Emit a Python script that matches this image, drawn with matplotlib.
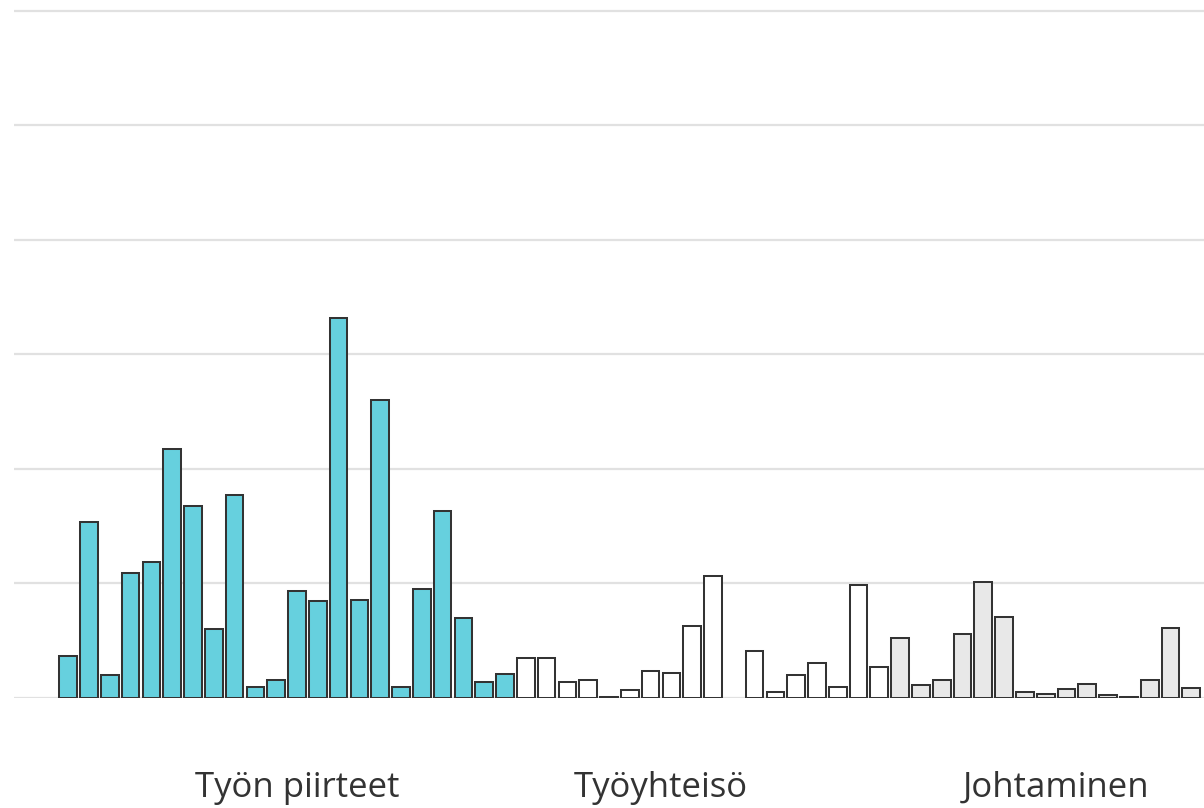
import matplotlib
matplotlib.use("Agg")
import matplotlib.pyplot as plt
import matplotlib.transforms as mtransforms
import numpy as np

# bar heights in grid units (gridline every 5); nan = no bar
values = [1.83, 7.69, 0.99, 5.44, 5.94, 10.86, 8.40, 3.03, 8.88, 0.47,
          0.77, 4.66, 4.24, 16.59, 4.27, 13.0, 0.47, 4.75, 8.17, 3.49,
          0.71, 1.06,
          1.73, 1.73, 0.68, 0.80, 0.06, 0.35, 1.16, 1.09, 3.13, 5.34,
          np.nan, 2.04, 0.25, 1.0, 1.53, 0.47, 4.92, 1.34,
          2.62, 0.55, 0.79, 2.79, 5.08, 3.54, 0.25, 0.16, 0.39, 0.61,
          0.12, 0.06, 0.79, 3.07, 0.42]
# colour class of each bar: 0 = highlighted, 1 = white, 2 = grey
bar_class = [0] * 22 + [1] * 18 + [2] * 15
class_colors = ["#66D0DE", "#FFFFFF", "#E8E8E8"]

groups = ["Työn piirteet", "Työyhteisö", "Johtaminen"]
group_sizes = [23, 12, 26]

fig = plt.figure(figsize=(12.04, 8.08), dpi=100)
ax = fig.add_axes([14 / 1204, 110 / 808, 1190 / 1204, 691.6 / 808])

x = np.arange(len(values))
colors = [class_colors[c] for c in bar_class]
ax.bar(x, values, width=0.85, color=colors, edgecolor="#333333", linewidth=1.45, zorder=3)

ax.set_xlim(-2.606, 54.61)
ax.set_ylim(0, 30.2)
ax.set_yticks([0, 5, 10, 15, 20, 25, 30])
ax.yaxis.grid(True, color="#E1E1E1", linewidth=1.6, zorder=0)
ax.set_axisbelow(True)
ax.tick_params(left=False, bottom=False, labelleft=False, labelbottom=False)
for s in ax.spines.values():
    s.set_visible(False)

trans = mtransforms.blended_transform_factory(ax.transData, ax.transAxes)
start = 0
for name, size in zip(groups, group_sizes):
    center = start + (size - 1) / 2
    ax.text(center, -0.1431, name, transform=trans, ha="center", va="baseline",
            fontsize=25, color="#333333", family=["Open Sans", "DejaVu Sans"],
            clip_on=False)
    start += size

fig.savefig("out.png", dpi=100)
